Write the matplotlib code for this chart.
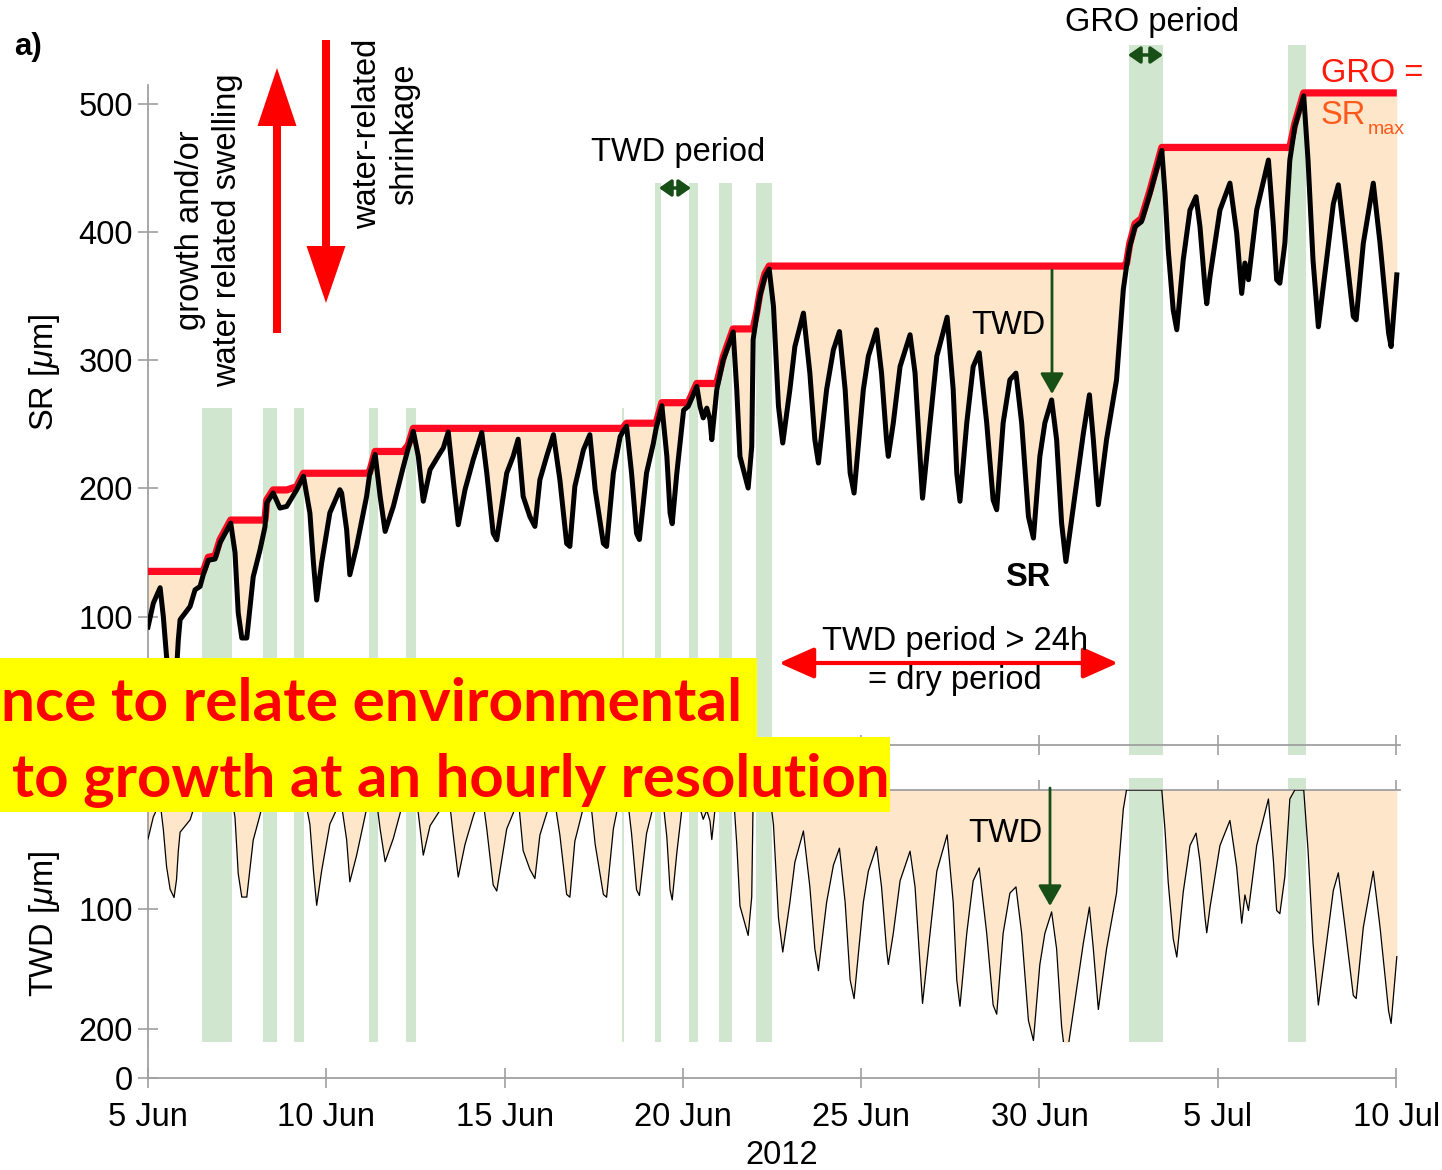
import numpy as np
import matplotlib.pyplot as plt
from matplotlib.patches import FancyArrow, Rectangle
from matplotlib.transforms import IdentityTransform, offset_copy

plt.rcParams['font.family'] = ['Liberation Sans', 'DejaVu Sans']
plt.rcParams['mathtext.fontset'] = 'custom'
plt.rcParams['mathtext.it'] = 'Liberation Sans:italic'
plt.rcParams['mathtext.rm'] = 'Liberation Sans'

W, H = 1442, 1170
DPI = 100

# stem radius (SR) time series, days since 5 Jun 2012 00:00
sr_day = [0.00, 0.15, 0.34, 0.43, 0.52, 0.62, 0.73, 0.80, 0.85, 0.90, 1.18, 1.32, 1.46, 1.55,
          1.69, 1.88, 2.02, 2.30, 2.32, 2.44, 2.53, 2.63, 2.77, 2.95, 3.14, 3.28, 3.33, 3.51,
          3.70, 3.89, 4.17, 4.36, 4.54, 4.64, 4.73, 4.87, 5.10, 5.38, 5.43, 5.57, 5.66, 5.85,
          6.13, 6.21, 6.37, 6.51, 6.65, 6.88, 7.16, 7.30, 7.44, 7.58, 7.72, 7.91, 8.19, 8.28,
          8.42, 8.56, 8.70, 8.89, 9.12, 9.36, 9.50, 9.68, 9.78, 10.06, 10.24, 10.38, 10.52,
          10.71, 10.85, 10.99, 11.18, 11.37, 11.55, 11.74, 11.83, 11.97, 12.21, 12.39, 12.54,
          12.77, 12.86, 13.05, 13.24, 13.31, 13.42, 13.56, 13.70, 13.78, 13.98, 14.17, 14.25,
          14.41, 14.55, 14.64, 14.70, 14.83, 15.02, 15.15, 15.39, 15.48, 15.57, 15.67, 15.76,
          15.81, 15.95, 16.13, 16.41, 16.51, 16.60, 16.83, 16.93, 16.97, 17.07, 17.16, 17.30,
          17.42, 17.54, 17.68, 17.80, 18.00, 18.14, 18.38, 18.56, 18.70, 18.80, 19.03, 19.22,
          19.39, 19.55, 19.69, 19.80, 20.06, 20.20, 20.43, 20.57, 20.71, 20.76, 20.90, 21.09,
          21.37, 21.51, 21.65, 21.72, 21.93, 22.12, 22.41, 22.58, 22.68, 22.77, 22.96, 23.14,
          23.31, 23.52, 23.70, 23.80, 23.98, 24.17, 24.34, 24.50, 24.69, 24.83, 25.01, 25.15,
          25.34, 25.48, 25.62, 25.74, 25.95, 26.23, 26.40, 26.51, 26.65, 26.88, 27.16, 27.35,
          27.44, 27.53, 27.68, 27.86, 28.10, 28.43, 28.52, 28.61, 28.75, 28.85, 29.03, 29.22,
          29.39, 29.50, 29.64, 29.69, 29.78, 30.06, 30.34, 30.53, 30.67, 30.76, 30.86, 31.09,
          31.42, 31.56, 31.65, 31.74, 31.88, 32.02, 32.16, 32.41, 32.53, 32.67, 32.82, 33.05,
          33.24, 33.38, 33.57, 33.80, 33.88, 34.08, 34.36, 34.55, 34.79, 34.86, 34.98, 35.02]
sr_um = [92, 110.6, 122.6, 100, 69, 50, 43, 58, 82, 97.7, 108, 121, 123.6, 132.7,
         144, 145, 157.7, 172, 173, 150, 103, 83.4, 83.4, 131, 152, 170, 188.7, 196.5,
         184.7, 186, 199, 209.5, 180.8, 141.8, 113, 142, 181, 199, 196.4, 168, 132.7, 154.8,
         193.8, 210, 226.5, 193.8, 166.5, 186, 217, 231.5, 244.5, 225, 190, 214.6, 227.6, 231.5,
         244, 206.8, 171.7, 199, 222.4, 243.6, 212, 165, 160, 212, 225, 238.4, 193.8,
         178, 170.4, 206.8, 225, 241.9, 206.8, 157.1, 154.8, 201.6, 230, 241.9, 199,
         157.1, 154.8, 212, 240.3, 244, 248.5, 212, 165, 160.2, 212, 235, 247,
         264.5, 225, 181, 172.5, 212, 261, 264, 279.5, 264, 255, 262.6, 253.5,
         238, 277, 300, 322, 277, 225, 200.3, 232.5, 316, 335, 350, 365,
         371, 341.9, 264, 235.4, 277, 310.6, 336.7, 290, 238, 219.8, 277, 308,
         322.3, 277, 212, 196.4, 277, 303, 323.7, 290, 238, 225, 251, 295,
         319.8, 290, 225, 192.4, 251, 303, 333.5, 277, 212, 190, 251, 295,
         305.8, 251, 191, 183.4, 251, 284.7, 289.9, 251, 178, 161.3, 225, 251,
         269, 238, 173, 143, 186, 243, 273, 238, 187.3, 238, 284.7, 355,
         373, 388.5, 404, 408, 430, 463.5, 430, 386, 339, 323.7, 378, 417,
         427.4, 404, 357, 344, 365, 417, 438, 399, 352, 375.7, 362.7, 417,
         456, 404, 362.7, 360, 391, 456, 482, 506, 456, 378, 326, 378,
         422, 436.7, 391, 334, 331.5, 391, 438, 391, 321, 310.6, 352, 366.5]
sr_max_before = 133.0   # SR maximum reached before 5 Jun

# shaded periods (start, end) in days
span_start = [1.52, 3.22, 4.09, 6.21, 7.23, 13.28, 14.22, 15.18, 16.02, 17.05, 27.52, 31.98]
span_end = [2.36, 3.61, 4.38, 6.45, 7.52, 13.36, 14.38, 15.43, 16.38, 17.49, 28.45, 32.47]

date_ticks = [0, 5, 10, 15, 20, 25, 30, 35]
date_labels = ['5 Jun', '10 Jun', '15 Jun', '20 Jun', '25 Jun', '30 Jun', '5 Jul', '10 Jul']
sr_ticks = [100, 200, 300, 400, 500]
twd_ticks = [0, 100, 200]
twd_labels = ['', '100', '200']

day = np.array(sr_day)
sr = np.array(sr_um)
gro = np.maximum.accumulate(np.maximum(sr, sr_max_before))
twd = gro - sr

PEACH = '#fde6c9'
GREEN = '#d0e6ce'
RED = '#ff0a20'
DKGREEN = '#174f17'
GRAY = '#a0a0a0'
FS = 23.5

fig = plt.figure(figsize=(W / DPI, H / DPI), dpi=DPI)


def rect(left, top, right, bottom):
    return [left / W, 1 - bottom / H, (right - left) / W, (bottom - top) / H]


def fpt(x, y):
    return x / W, 1 - y / H


XMAX = (1400 - 148) / 35.66
ax1 = fig.add_axes(rect(148, 85, 1400, 745))
ax2 = fig.add_axes(rect(148, 790, 1400, 1042))
ax3 = fig.add_axes(rect(148, 1043, 1400, 1078))

for ax in (ax1, ax2, ax3):
    ax.set_xlim(0, XMAX)
    ax.set_facecolor('none')
    for s in ax.spines.values():
        s.set_color(GRAY)
        s.set_linewidth(1.3)
    ax.tick_params(direction='inout', length=14, width=1.2, color=GRAY,
                   labelsize=FS, pad=4)
    ax.set_xticks(date_ticks)

# --- SR panel ---
ax1.set_ylim(0, 514.5)
ax1.spines[['top', 'right']].set_visible(False)
ax1.set_yticks(sr_ticks)
ax1.set_xticklabels([])
ax1.set_ylabel(r'SR [$\mu$m]', fontsize=FS)
ax1.yaxis.set_label_coords(-0.069, 0.565)

span_top = [0.5106] * 6 + [0.8515] * 4 + [1.0606] * 2
for a, b, t in zip(span_start, span_end, span_top):
    ax1.axvspan(a, b, ymin=-0.015, ymax=t, color=GREEN, lw=0, zorder=1, clip_on=False)
    ax2.axvspan(a, b, ymin=0, ymax=1.0476, color=GREEN, lw=0, zorder=1, clip_on=False)

ax1.fill_between(day, sr, gro, color=PEACH, lw=0, zorder=2)
red_tr = offset_copy(ax1.transData, fig=fig, x=0, y=3, units='dots')
ax1.plot(day, gro, color=RED, lw=5.2, zorder=3, transform=red_tr,
         solid_joinstyle='round', solid_capstyle='butt')
ax1.plot(day, sr, color='black', lw=3.6, zorder=4, solid_joinstyle='round')

# --- TWD panel ---
ax2.set_ylim(210.9, 0)
ax2.spines[['bottom', 'right']].set_visible(False)
ax2.xaxis.set_ticks_position('top')
ax2.set_xticklabels([])
ax2.set_yticks(twd_ticks)
ax2.set_yticklabels(twd_labels)
ax2.set_ylabel(r'TWD [$\mu$m]', fontsize=FS)
ax2.yaxis.set_label_coords(-0.069, 0.47)
ax2.fill_between(day, 0, twd, color=PEACH, lw=0, zorder=2)
ax2.plot(day, twd, color='black', lw=0.9, zorder=4)

# --- date axis ---
ax3.set_ylim(0, 30)
ax3.spines[['top', 'right']].set_visible(False)
ax3.spines['bottom'].set_bounds(0, 35)
ax3.set_yticks([0])
ax3.set_xticklabels(date_labels)
ax3.tick_params(axis='x', pad=10)
# keep the last date label inside the canvas
last = ax3.get_xticklabels()[-1]
last.set_x(34.88)
fig.text(*fpt(782, 1155), '2012', fontsize=FS, ha='center', va='center')

# --- annotations ---
fig.text(*fpt(14, 47), 'a)', fontsize=FS - 1, fontweight='bold', ha='left', va='center')

pix = IdentityTransform()
fig.add_artist(FancyArrow(277, H - 333, 0, 265, width=8, head_width=39, head_length=58,
                          length_includes_head=True, color='#ff0000', lw=0, transform=pix))
fig.add_artist(FancyArrow(326, H - 40, 0, -263, width=8, head_width=39, head_length=57,
                          length_includes_head=True, color='#ff0000', lw=0, transform=pix))
fig.text(*fpt(209, 230), 'growth and/or\nwater related swelling', fontsize=FS,
         rotation=90, ha='center', va='center', multialignment='center', linespacing=1.25)
fig.text(*fpt(386, 134), 'water-related\nshrinkage', fontsize=FS,
         rotation=90, ha='center', va='center', multialignment='center', linespacing=1.25)

fig.text(*fpt(678, 152), 'TWD period', fontsize=FS, ha='center', va='center')
fig.text(*fpt(1152, 22), 'GRO period', fontsize=FS, ha='center', va='center')
small = dict(arrowstyle='<|-|>,head_length=0.4,head_width=0.28', color=DKGREEN,
             lw=2.5, mutation_scale=18, shrinkA=0, shrinkB=0)
fig.add_artist(plt.Annotation('', xy=(691, H - 188), xytext=(659, H - 188),
                              xycoords='figure pixels', arrowprops=small))
fig.add_artist(plt.Annotation('', xy=(1163, H - 55), xytext=(1128, H - 55),
                              xycoords='figure pixels', arrowprops=small))

fig.text(*fpt(1321, 73), 'GRO =', fontsize=FS, color='#ff1a0a', ha='left', va='center')
fig.text(*fpt(1321, 115), 'SR', fontsize=FS, color='#ff5a1e', ha='left', va='center')
fig.text(*fpt(1368, 129), 'max', fontsize=14, color='#ff5a1e', ha='left', va='center')

down = dict(arrowstyle='-|>,head_length=0.7,head_width=0.4', color=DKGREEN,
            lw=2, mutation_scale=18, shrinkA=0, shrinkB=0)
fig.text(*fpt(1008, 325), 'TWD', fontsize=FS, ha='center', va='center')
fig.add_artist(plt.Annotation('', xy=(1052, H - 394), xytext=(1052, H - 270),
                              xycoords='figure pixels', arrowprops=down))
fig.text(*fpt(1005, 833), 'TWD', fontsize=FS, ha='center', va='center')
fig.add_artist(plt.Annotation('', xy=(1050, H - 906), xytext=(1050, H - 788),
                              xycoords='figure pixels', arrowprops=down))
fig.text(*fpt(1028, 577), 'SR', fontsize=FS, fontweight='bold', ha='center', va='center')

dry = dict(arrowstyle='<|-|>,head_length=0.9,head_width=0.4', color='#ff0000',
           lw=3, mutation_scale=24, shrinkA=0, shrinkB=0)
fig.add_artist(plt.Annotation('', xy=(1118, H - 663), xytext=(779, H - 663),
                              xycoords='figure pixels', arrowprops=dry))
fig.text(*fpt(955, 641), 'TWD period > 24h', fontsize=FS, ha='center', va='center')
fig.text(*fpt(955, 681), '= dry period', fontsize=FS, ha='center', va='center')

# --- highlighted caption ---
fig.add_artist(Rectangle((0, H - 737), 757, 79, color='#ffff00', lw=0, transform=pix, zorder=10))
fig.add_artist(Rectangle((0, H - 812), 890, 75, color='#ffff00', lw=0, transform=pix, zorder=10))
fig.text(*fpt(1, 721), 'nce to relate environmental', fontsize=43.5, fontweight='bold',
         family='Lato', color='#ff0000', ha='left', va='baseline', zorder=11)
fig.text(*fpt(12, 797), 'to growth at an hourly resolution', fontsize=43, fontweight='bold',
         family='Lato', color='#ff0000', ha='left', va='baseline', zorder=11)

fig.savefig('out.png', dpi=DPI)
